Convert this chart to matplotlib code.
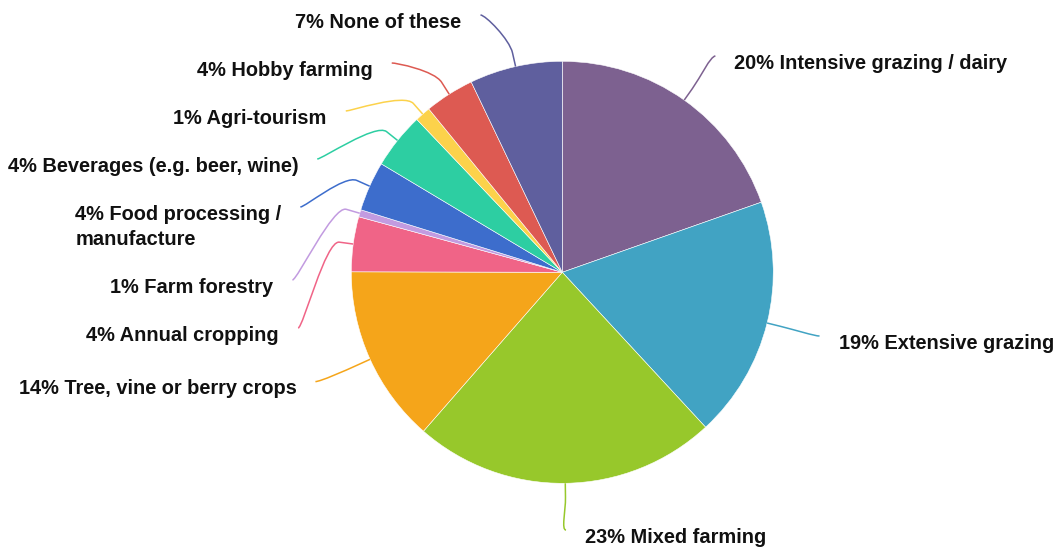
import numpy as np
import matplotlib.pyplot as plt
from matplotlib.path import Path
from matplotlib.patches import PathPatch

plt.rcParams['font.family'] = ['Liberation Sans', 'DejaVu Sans']

categories = ["Intensive grazing / dairy", "Extensive grazing", "Mixed farming",
              "Tree, vine or berry crops", "Annual cropping", "Farm forestry",
              "Food processing /\nmanufacture", "Beverages (e.g. beer, wine)",
              "Agri-tourism", "Hobby farming", "None of these"]
shares = [19.6, 18.5, 23.3, 13.6, 4.2, 0.55, 3.8, 4.3, 1.2, 3.8, 7.1]
colors = ["#7d6190", "#41a3c3", "#97c82b", "#f5a51a", "#f06487", "#c29be0",
          "#3d6dcc", "#2dcea2", "#fcd24b", "#dd5a52", "#5f5f9e"]

W, H = 1062, 552
fig = plt.figure(figsize=(W / 100, H / 100), dpi=100)
ax = fig.add_axes([0, 0, 1, 1])

cx, cy, r = 562.3, H - 272.3, 211
wedges, _ = ax.pie(shares, colors=colors, startangle=90, counterclock=False,
                   radius=r, center=(cx, cy),
                   wedgeprops=dict(edgecolor='white', linewidth=0.4))
ax.set_xlim(0, W)
ax.set_ylim(0, H)
ax.set_aspect('auto')
ax.axis('off')

# label layout (y up, like the axes)
R = 265
line_h = 25
total = sum(shares)
items = []
for w, name, val, col in zip(wedges, categories, shares, colors):
    a = np.deg2rad((w.theta1 + w.theta2) / 2)
    ux, uy = np.cos(a), np.sin(a)
    nlines = name.count("\n") + 1
    items.append(dict(text=f"{round(val / total * 100)}% {name}", col=col,
                      ux=ux, uy=uy, left=ux < 0, ny=cy + R * uy, nlines=nlines,
                      gap=48 + line_h * (nlines - 1)))

top, bottom = H - 15, H - 530
for side in (True, False):
    group = sorted([d for d in items if d['left'] == side], key=lambda d: -d['ny'])
    prev = None
    for d in group:
        y = min(d['ny'], top)
        if prev is not None:
            y = min(y, prev['y'] - prev['gap'])
        d['y'] = y
        prev = d
    nxt = None
    for d in reversed(group):
        y = max(d['y'], bottom)
        if nxt is not None:
            y = max(y, nxt['y'] + d['gap'])
        d['y'] = y
        nxt = d
    crowded = any(abs(d['y'] - d['ny']) > 10 for d in group)
    for d in group:
        sgn = -1 if side else 1
        if crowded:
            d['x'] = cx + sgn * np.sqrt(max(270 ** 2 - (d['y'] - cy) ** 2, 0))
        else:
            d['x'] = cx + R * d['ux']

for d in items:
    ux, uy = d['ux'], d['uy']
    tx, ty = cx + r * ux, cy + r * uy
    bx, by = cx + (r + 14) * ux, cy + (r + 14) * uy
    lx, ly = d['x'], d['y']
    toward = 5 if d['left'] else -5
    verts = [(tx, ty), (bx, by), (2 * bx - tx, 2 * by - ty), (lx + toward, ly), (lx, ly)]
    codes = [Path.MOVETO, Path.LINETO, Path.CURVE4, Path.CURVE4, Path.CURVE4]
    ax.add_patch(PathPatch(Path(verts, codes), fill=False, edgecolor=d['col'], lw=1.1))
    off = -19 if d['left'] else 19
    # baseline of the last line of the label
    base = ly - 12.7 - line_h * (d['nlines'] - 1)
    ax.text(lx + off, base, d['text'], ha='right' if d['left'] else 'left',
            va='baseline', multialignment='left', linespacing=1.36,
            fontsize=14.4, fontweight='bold', color='#111111')

fig.savefig("out.png", dpi=100, facecolor='white')
